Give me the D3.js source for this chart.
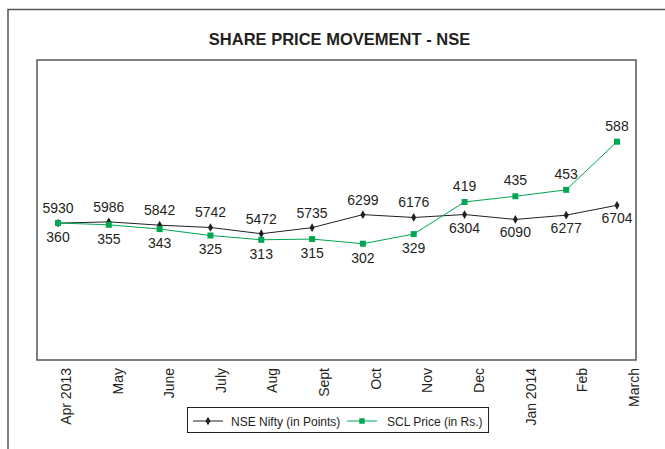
<!DOCTYPE html>
<html lang="en">
  <head>
    <meta charset="utf-8">
    <title>Share price movement - NSE</title>
    <script src="https://cdn.jsdelivr.net/npm/d3@7"></script>
    <style>
      body { margin: 0; background: #fff; }
      text { font-family: "Liberation Sans", Arial, Helvetica, sans-serif; fill: #231f20; }
    </style>
  </head>
  <body>
    <script>
      var months = ["Apr 2013", "May", "June", "July", "Aug", "Sept", "Oct", "Nov", "Dec", "Jan 2014", "Feb", "March"];
      var nifty = [5930, 5986, 5842, 5742, 5472, 5735, 6299, 6176, 6304, 6090, 6277, 6704];
      var scl = [360, 355, 343, 325, 313, 315, 302, 329, 419, 435, 453, 588];
      // label goes above the point (true) or below (false)
      var niftyAbove = [true, true, true, true, true, true, true, true, false, false, false, false];
      var sclAbove = [false, false, false, false, false, false, false, false, true, true, true, true];

      const W = 665, H = 449;
      const PLOT = {left: 37, top: 60, right: 636, bottom: 360};
      const GREEN = "#00a651";
      const DARK = "#231f20";

      var svg = d3.select("body").append("svg")
        .attr("width", W)
        .attr("height", H);

      // outer frame (only left and top edges visible)
      svg.append("path")
        .attr("d", "M8," + H + "V9.5H" + W)
        .attr("fill", "none")
        .attr("stroke", "#555")
        .attr("stroke-width", 1.5);

      svg.append("text")
        .attr("x", 339.5)
        .attr("y", 45)
        .attr("text-anchor", "middle")
        .attr("font-weight", "bold")
        .attr("font-size", 16.5)
        .text("SHARE PRICE MOVEMENT - NSE");

      svg.append("rect")
        .attr("x", PLOT.left)
        .attr("y", PLOT.top)
        .attr("width", PLOT.right - PLOT.left)
        .attr("height", PLOT.bottom - PLOT.top)
        .attr("fill", "none")
        .attr("stroke", "#555")
        .attr("stroke-width", 1.5);

      var x = d3.scalePoint().domain(months).range([58, 617]);
      var xLab = d3.scalePoint().domain(months).range([66, 634]);
      // two hidden value axes
      var yNifty = d3.scaleLinear().domain([0, 13000]).range([PLOT.bottom, PLOT.top]);
      var yScl = d3.scaleLinear().domain([302, 588]).range([243.7, 141.7]);

      // category labels, rotated
      svg.append("g").selectAll("text")
        .data(months)
        .join("text")
        .attr("transform", d => "translate(" + xLab(d) + "," + (PLOT.bottom + 8) + ") rotate(-90)")
        .attr("text-anchor", "end")
        .attr("dy", "0.35em")
        .attr("font-size", 14)
        .text(d => d);

      function drawSeries(values, y, color, symbol, size, above, offUp, offDown) {
        var line = d3.line()
          .x((d, i) => x(months[i]))
          .y(d => y(d));
        svg.append("path")
          .datum(values)
          .attr("d", line)
          .attr("fill", "none")
          .attr("stroke", color)
          .attr("stroke-width", 1);
        svg.append("g").selectAll("path")
          .data(values)
          .join("path")
          .attr("transform", (d, i) => "translate(" + x(months[i]) + "," + y(d) + ")")
          .attr("d", d3.symbol().type(symbol).size(size))
          .attr("fill", color);
        svg.append("g").selectAll("text")
          .data(values)
          .join("text")
          .attr("x", (d, i) => x(months[i]))
          .attr("y", (d, i) => y(d) + (above[i] ? offUp : offDown))
          .attr("text-anchor", "middle")
          .attr("font-size", 14)
          .text(d => d);
      }

      drawSeries(nifty, yNifty, DARK, d3.symbolDiamond, 22, niftyAbove, -10, 18);
      drawSeries(scl, yScl, GREEN, d3.symbolSquare, 36, sclAbove, -11, 19);

      // legend
      var legend = svg.append("g");
      legend.append("rect")
        .attr("x", 187.5)
        .attr("y", 407.5)
        .attr("width", 301)
        .attr("height", 25)
        .attr("fill", "#fff")
        .attr("stroke", DARK)
        .attr("stroke-width", 1);

      var items = [
        {name: "NSE Nifty (in Points)", color: DARK, symbol: d3.symbolDiamond, size: 22, x0: 193, tx: 231},
        {name: "SCL Price (in Rs.)", color: GREEN, symbol: d3.symbolSquare, size: 30, x0: 347, tx: 387}
      ];
      items.forEach(function(it) {
        legend.append("line")
          .attr("x1", it.x0).attr("x2", it.x0 + 30)
          .attr("y1", 421).attr("y2", 421)
          .attr("stroke", it.color)
          .attr("stroke-width", 1);
        legend.append("path")
          .attr("transform", "translate(" + (it.x0 + 15) + ",421)")
          .attr("d", d3.symbol().type(it.symbol).size(it.size))
          .attr("fill", it.color);
        legend.append("text")
          .attr("x", it.tx)
          .attr("y", 426)
          .attr("font-size", 12)
          .text(it.name);
      });
    </script>
  </body>
</html>
